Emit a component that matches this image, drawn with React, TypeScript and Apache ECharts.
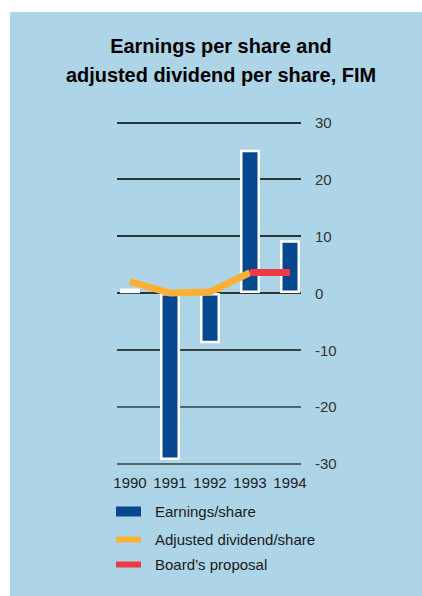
import React, { useEffect, useRef } from "react";
import * as echarts from "echarts";

// Fiscal years on the category axis
const years = ["1990", "1991", "1992", "1993", "1994"];
// Earnings per share, FIM
const earnings = [0.8, -29.3, -8.8, 25.2, 9.3];
// Adjusted dividend per share, FIM
const dividend = [2.0, 0.0, 0.2, 3.6, null];
// Board's dividend proposal, FIM
const proposal = [null, null, null, 3.6, 3.6];
// Value axis ticks
const yMin = -30;
const yMax = 30;
const yStep = 10;

const BLUE = "#054890";
const ORANGE = "#fbb034";
const RED = "#ee3a43";
const PANEL = "#add5e7";

const titleLines = ["Earnings per share and", "adjusted dividend per share, FIM"];

export default function App() {
  const ref = useRef<HTMLDivElement>(null);

  useEffect(() => {
    if (!ref.current) return;
    const chart = echarts.init(ref.current, null, { renderer: "svg" });

    const plotTop = 122.3;
    const plotHeight = 341.6;
    const font = "'Liberation Sans', Arial, Helvetica, sans-serif";

    chart.setOption({
      animation: false,
      backgroundColor: "#ffffff",
      graphic: [
        {
          type: "rect",
          z: -10,
          silent: true,
          shape: { x: 10, y: 12, width: 412, height: 584 },
          style: { fill: PANEL },
        },
        ...titleLines.map((t, i) => ({
          type: "text",
          x: 221,
          y: 45 + i * 29,
          scaleX: 0.95,
          style: {
            text: t,
            fill: "#000000",
            font: `bold 21px ${font}`,
            align: "center",
            verticalAlign: "middle",
          },
        })),
      ],
      legend: [
        { name: "Earnings/share", top: 504, h: 10 },
        { name: "Adjusted dividend/share", top: 532, h: 6 },
        { name: "Board\u2019s proposal", top: 557, h: 6 },
      ].map((l) => ({
        data: [{ name: l.name, icon: "rect" }],
        left: 116,
        top: l.top,
        itemWidth: 25,
        itemHeight: l.h,
        itemGap: 0,
        padding: 0,
        selectedMode: false,
        itemStyle: { borderWidth: 0 },
        textStyle: {
          fontFamily: font,
          fontSize: 15,
          color: "#1a1a1a",
          padding: [0, 0, 0, 9],
        },
      })),
      grid: [
        { left: 117, top: plotTop, width: 184, height: plotHeight },
        { left: 110, top: plotTop, width: 200, height: plotHeight },
      ],
      xAxis: [
        { type: "value", gridIndex: 0, show: false, min: 0, max: 1 },
        {
          type: "category",
          gridIndex: 1,
          data: years,
          position: "bottom",
          axisLine: { show: false, onZero: false },
          axisTick: { show: false },
          axisLabel: {
            interval: 0,
            margin: 11,
            fontFamily: font,
            fontSize: 15,
            color: "#222222",
          },
        },
      ],
      yAxis: [
        {
          type: "value",
          gridIndex: 0,
          position: "right",
          min: yMin,
          max: yMax,
          interval: yStep,
          axisLine: { show: false },
          axisTick: { show: false },
          axisLabel: {
            margin: 14,
            fontFamily: font,
            fontSize: 15,
            color: "#333333",
          },
          splitLine: {
            lineStyle: {
              width: 1.6,
              color: ["#2e3f47", "#2e3f47", "#111111", "#000000", "#000000", "#000000", "#000000"],
            },
          },
        },
        {
          type: "value",
          gridIndex: 1,
          min: yMin,
          max: yMax,
          interval: yStep,
          show: false,
          splitLine: { show: false },
        },
      ],
      series: [
        {
          name: "Earnings/share",
          type: "bar",
          xAxisIndex: 1,
          yAxisIndex: 1,
          barWidth: 20,
          color: BLUE,
          itemStyle: { color: BLUE, borderColor: "#ffffff", borderWidth: 2.5 },
          data: earnings.map((v, i) =>
            i === 0 ? { value: v, itemStyle: { color: "#ffffff" } } : v
          ),
          z: 2,
        },
        {
          name: "Adjusted dividend/share",
          type: "line",
          xAxisIndex: 1,
          yAxisIndex: 1,
          color: ORANGE,
          showSymbol: false,
          symbol: "none",
          lineStyle: { color: ORANGE, width: 7, cap: "butt", join: "miter" },
          data: dividend,
          z: 3,
        },
        {
          name: "Board\u2019s proposal",
          type: "line",
          xAxisIndex: 1,
          yAxisIndex: 1,
          color: RED,
          showSymbol: false,
          symbol: "none",
          lineStyle: { color: RED, width: 7, cap: "butt" },
          data: proposal,
          z: 4,
        },
      ],
    });

    return () => chart.dispose();
  }, []);

  return (
    <div
      ref={ref}
      style={{ position: "fixed", left: 0, top: 0, width: 422, height: 596 }}
    />
  );
}
